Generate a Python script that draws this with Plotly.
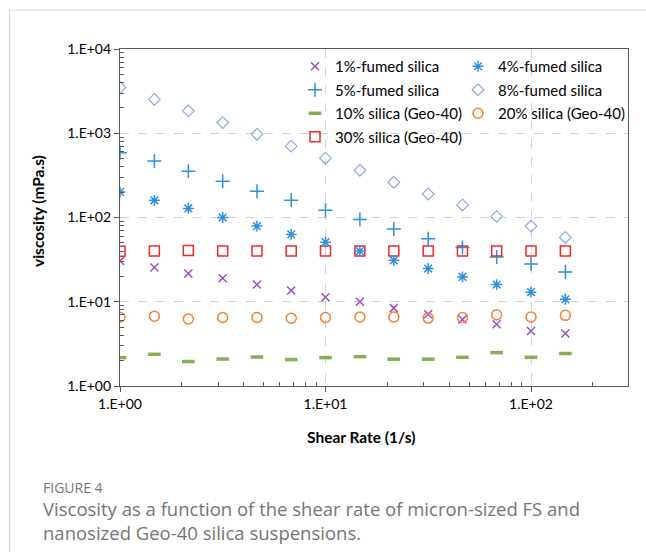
import plotly.graph_objects as go

# ---------------- data ----------------
shear_rate = [1.0, 1.47, 2.15, 3.16, 4.64, 6.81, 10.0, 14.7, 21.5, 31.6, 46.4, 68.1, 100.0, 147.0]

fs1 = [30.5, 25.5, 21.6, 19.0, 16.0, 13.6, 11.3, 10.0, 8.4, 7.1, 6.15, 5.4, 4.5, 4.2]
fs4 = [201, 160, 128, 100, 79, 63, 51, 40, 31, 24.8, 19.7, 16.0, 13.0, 10.7]
fs5 = [585, 467, 355, 270, 205, 160, 122, 95, 73, 56, 44, 34, 28, 22.6]
fs8 = [3500, 2520, 1845, 1343, 975, 703, 506, 364, 262, 190, 141, 103, 79, 58]
geo10 = [2.17, 2.38, 1.95, 2.09, 2.21, 2.06, 2.17, 2.23, 2.08, 2.08, 2.19, 2.49, 2.19, 2.43]
geo20 = [6.55, 6.73, 6.25, 6.5, 6.5, 6.37, 6.5, 6.6, 6.6, 6.4, 6.5, 7.0, 6.6, 6.9]
geo30 = [39.8, 40.0, 40.6, 40.0, 40.0, 40.0, 40.0, 40.0, 40.0, 40.0, 40.0, 40.0, 40.0, 40.0]

x_tickvals = [1, 10, 100]
x_ticktext = ["1.E+00", "1.E+01", "1.E+02"]
y_tickvals = [1, 10, 100, 1000, 10000]
y_ticktext = ["1.E+00", "1.E+01", "1.E+02", "1.E+03", "1.E+04"]

x_minor = [2, 3, 4, 5, 6, 7, 8, 9, 20, 30, 40, 50, 60, 70, 80, 90, 200]
y_minor = [2, 3, 4, 5, 6, 7, 8, 9, 20, 30, 40, 50, 60, 70, 80, 90,
           200, 300, 400, 500, 600, 700, 800, 900, 2000, 3000, 4000, 5000, 6000, 7000, 8000, 9000]

x_title = "<b>Shear Rate (1/s)</b>"
y_title = "<b>viscosity (mPa.s)</b>"
caption_label = "FIGURE 4"
caption_text = ("Viscosity as a function of the shear rate of micron-sized FS and<br>"
                "nanosized Geo-40 silica suspensions.")

# ---------------- geometry ----------------
W, H = 646, 552
L, R, T, B = 120, 18, 49, 166
PW, PH = W - L - R, H - T - B


def px(xp):
    return (xp - L) / PW


def py(yp):
    return (H - B - yp) / PH


FONT = "Lato"

series = [
    # name, y, symbol, color, size, linewidth, legend
    ("1%-fumed silica", fs1, "x-thin-open", "#9A50C4", 8, 1.5, "legend"),
    ("5%-fumed silica", fs5, "cross-thin-open", "#2E8FE0", 10, 1.5, "legend"),
    ("10% silica (Geo-40)", geo10, "line-ew-open", "#86AE55", 9, 3.5, "legend"),
    ("30% silica (Geo-40)", geo30, "square-open", "#EE2A2A", 10, 1.5, "legend"),
    ("4%-fumed silica", fs4, "asterisk-open", "#2E8FE0", 9, 1.5, "legend2"),
    ("8%-fumed silica", fs8, "diamond-open", "#8EAADB", 9, 1.2, "legend2"),
    ("20% silica (Geo-40)", geo20, "circle-open", "#F4812E", 10, 1.5, "legend2"),
]

fig = go.Figure()
for i, (name, ys, sym, col, size, lw, leg) in enumerate(series):
    fig.add_trace(go.Scatter(
        x=shear_rate, y=ys, mode="markers", name=name,
        marker=dict(symbol=sym, size=size, color=col, line=dict(color=col, width=lw)),
        legend=leg, legendgroup="g%d" % i,
    ))

axis_common = dict(
    type="log",
    showline=True, linecolor="#595959", linewidth=1.2, mirror=True,
    showgrid=True, gridcolor="#D3D3D3", griddash="dash", gridwidth=1,
    zeroline=False,
    ticks="outside", ticklen=5, tickcolor="#595959", tickwidth=1,
    tickfont=dict(family=FONT, size=14, color="#000000"),
)

fig.update_xaxes(
    **axis_common,
    range=[0, 2.472],
    tickvals=x_tickvals, ticktext=x_ticktext,
    minor=dict(tickmode="array", tickvals=x_minor, ticks="inside", ticklen=4,
               tickcolor="#595959", tickwidth=1, showgrid=False),
)
fig.update_yaxes(
    **axis_common,
    range=[0, 4],
    tickvals=y_tickvals, ticktext=y_ticktext,
    minor=dict(tickmode="array", tickvals=y_minor, ticks="inside", ticklen=4,
               tickcolor="#595959", tickwidth=1, showgrid=False),
)

legend_common = dict(
    font=dict(family=FONT, size=15, color="#000000"),
    bgcolor="rgba(0,0,0,0)", borderwidth=0,
    tracegroupgap=1, orientation="v",
    xanchor="left", yanchor="top", itemwidth=30,
)

fig.update_layout(
    width=W, height=H,
    margin=dict(l=L, r=R, t=T, b=B, autoexpand=False),
    paper_bgcolor="white", plot_bgcolor="white",
    showlegend=True,
    legend=dict(**legend_common, x=px(295), y=py(50)),
    legend2=dict(**legend_common, x=px(458), y=py(50)),
    shapes=[
        dict(type="line", xref="paper", yref="paper", x0=px(9.5), x1=px(9.5), y0=py(10), y1=py(552),
             line=dict(color="#D0D0D0", width=1.2)),
        dict(type="line", xref="paper", yref="paper", x0=px(9.5), x1=px(646), y0=py(10), y1=py(10),
             line=dict(color="#DADADA", width=1.2)),
    ],
    annotations=[
        dict(text=x_title, xref="paper", yref="paper", x=px(361), y=py(437),
             xanchor="center", yanchor="middle", showarrow=False,
             font=dict(family=FONT, size=15.5, color="#000000")),
        dict(text=y_title, xref="paper", yref="paper", x=px(38), y=py(211),
             xanchor="center", yanchor="middle", showarrow=False, textangle=-90,
             font=dict(family=FONT, size=15.5, color="#000000")),
        dict(text=caption_label, xref="paper", yref="paper", x=px(41), y=py(487),
             xanchor="left", yanchor="middle", showarrow=False,
             font=dict(family="Open Sans", size=14, color="#757575")),
        dict(text=caption_text, xref="paper", yref="paper", x=px(41), y=py(494),
             xanchor="left", yanchor="top", showarrow=False, align="left",
             font=dict(family="Open Sans", size=18.5, color="#757575")),
    ],
)

fig.write_html("out.html")
